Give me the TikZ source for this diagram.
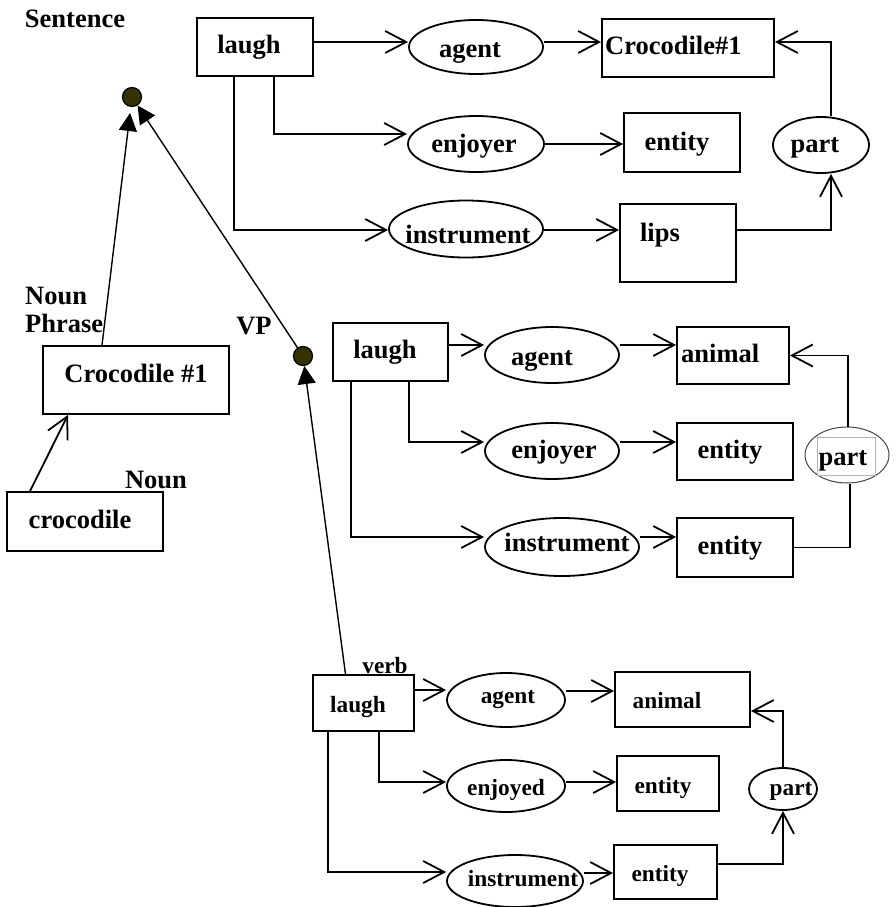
\documentclass[tikz,border=0pt]{standalone}
\usepackage{fontspec}
\setmainfont{Liberation Serif}
\usetikzlibrary{arrows.meta,shapes.geometric}
\definecolor{dotc}{RGB}{51,51,0}
\definecolor{pgray}{RGB}{70,70,70}
\definecolor{lgray}{RGB}{180,180,180}
\tikzset{
  lw/.style={line width=1.8pt},
  box/.style={draw, lw, rectangle, inner sep=0pt},
  ell/.style={draw, lw, ellipse, inner sep=0pt},
  txt/.style={font=\bfseries\fontsize{26.5}{28}\selectfont, inner sep=0pt, anchor=base},
  stxt/.style={font=\bfseries\fontsize{23.3}{26}\selectfont, inner sep=0pt, anchor=base},
  dotnode/.style={circle, draw, line width=1.2pt, fill=dotc, minimum size=19pt, inner sep=0pt},
  oarr/.style={lw, -{Straight Barb[length=21pt,width=22pt]}},
  farr/.style={line width=1.4pt, -{Triangle[length=18pt,width=18pt]}},
  conn/.style={lw},
}
\begin{document}
\begin{tikzpicture}[x=1pt,y=-1pt]
\useasboundingbox (0,0) rectangle (895,907);
\fill[white] (0,0) rectangle (895,907);

% ---------- top group ----------
\node[box,minimum width=116pt,minimum height=58pt] (L1) at (255,47) {};
\node[txt] (L1t) at (249,53) {laugh};
\node[ell,minimum width=134pt,minimum height=54pt] (A1) at (476,47) {};
\node[txt] (A1t) at (470,58) {agent};
\node[ell,minimum width=136pt,minimum height=56pt] (E1) at (476,144) {};
\node[txt] (E1t) at (474,152) {enjoyer};
\node[ell,minimum width=154pt,minimum height=57pt] (I1) at (466,229) {};
\node[txt] (I1t) at (468,243) {instrument};
\node[box,minimum width=172pt,minimum height=58pt] (C1) at (688,48) {};
\node[txt,anchor=base west] (C1t) at (605,55) {Crocodile\#1};
\node[box,minimum width=116pt,minimum height=59pt] (N1) at (682,142.5) {};
\node[txt] (N1t) at (677,150) {entity};
\node[box,minimum width=116pt,minimum height=78pt] (S1) at (678,243) {};
\node[txt] (S1t) at (660,241) {lips};
\node[ell,minimum width=96pt,minimum height=56pt] (P1) at (821,145) {};
\node[txt] (P1t) at (815,152) {part};

\draw[oarr] ([yshift=5pt]L1.east) -- ([yshift=5pt]A1.west);
\draw[oarr] ([xshift=19pt]L1.south) |- ([yshift=10pt]E1.west);
\draw[oarr] ([xshift=-21pt]L1.south) |- ([yshift=-1pt]I1.west);
\draw[oarr] ([yshift=5pt]A1.east) -- ([yshift=6pt]C1.west);
\draw[oarr] (E1.east) -- (E1.east -| N1.west);
\draw[oarr] ([yshift=-1pt]I1.east) -- ([yshift=13pt]S1.west);
\draw[oarr] ([yshift=13pt]S1.east) -| ([xshift=10pt]P1.south);
\draw[oarr] ([xshift=10pt]P1.north) |- ([yshift=6pt]C1.east);

% ---------- left side ----------
\node[txt] (sent) at (75,28) {Sentence};
\node[dotnode] (D1) at (132,97) {};
\node[txt,anchor=north west,align=left] (np) at (25,287) {Noun\\Phrase};
\node[box,minimum width=186pt,minimum height=68pt] (CN) at (136,380) {};
\node[txt] (CNt) at (136,382) {Crocodile \#1};
\node[box,minimum width=156pt,minimum height=59pt] (cr) at (85,521.5) {};
\node[txt] (crt) at (80,528) {crocodile};
\node[txt] (noun) at (156,488) {Noun};
\node[txt] (vp) at (254,334) {VP};
\node[dotnode] (D2) at (303,356) {};

% ---------- middle group ----------
\node[box,minimum width=115pt,minimum height=58pt] (L2) at (390.5,352) {};
\node[txt] (L2t) at (385,358) {laugh};
\node[ell,minimum width=134pt,minimum height=56pt] (A2) at (552,355) {};
\node[txt] (A2t) at (542,365) {agent};
\node[ell,minimum width=134pt,minimum height=56pt] (E2) at (552,451) {};
\node[txt] (E2t) at (554,458) {enjoyer};
\node[ell,minimum width=154pt,minimum height=58pt] (I2) at (562,547) {};
\node[txt] (I2t) at (567,551) {instrument};
\node[box,minimum width=112pt,minimum height=57pt] (M2) at (733,355.5) {};
\node[txt,anchor=base west] (M2t) at (681,362) {animal};
\node[box,minimum width=116pt,minimum height=57pt] (N2) at (735,451.5) {};
\node[txt] (N2t) at (730,458) {entity};
\node[box,minimum width=116pt,minimum height=59pt] (N3) at (735,547.5) {};
\node[txt] (N3t) at (730,554) {entity};
\node[ellipse,draw=pgray,line width=1pt,minimum width=84pt,minimum height=56pt,inner sep=0pt] (P2) at (847,455) {};
\node[draw=lgray,line width=1pt,minimum width=58pt,minimum height=38pt,inner sep=0pt] (P2r) at (846,456) {};
\node[txt] (P2t) at (843,465) {part};

\draw[oarr] ([yshift=7pt]L2.east) -- ([yshift=10pt]A2.west);
\draw[oarr] ([xshift=18.5pt]L2.south) |- ([yshift=9pt]E2.west);
\draw[oarr] ([xshift=-39.5pt]L2.south) |- ([yshift=10pt]I2.west);
\draw[oarr] ([yshift=10pt]A2.east) -- ([yshift=10.5pt]M2.west);
\draw[oarr] ([yshift=9pt]E2.east) -- ([yshift=9.5pt]N2.west);
\draw[oarr] ([yshift=10pt]I2.east) -- ([yshift=10.5pt]N3.west);
\draw[conn] (N3.east) -| ([xshift=3pt]P2.south);
\draw[oarr] ([xshift=1pt]P2.north) |- (M2.east);

% ---------- bottom group ----------
\node[box,minimum width=101pt,minimum height=56pt] (L3) at (363.5,703) {};
\node[stxt] (L3t) at (358,712) {laugh};
\node[stxt] (verb) at (385,673) {verb};
\node[ell,minimum width=118pt,minimum height=54pt] (A3) at (506,700) {};
\node[stxt] (A3t) at (508,703) {agent};
\node[ell,minimum width=118pt,minimum height=52pt] (E3) at (506,786) {};
\node[stxt] (E3t) at (506,795) {enjoyed};
\node[ell,minimum width=136pt,minimum height=52pt] (I3) at (515,881) {};
\node[stxt] (I3t) at (523,886) {instrument};
\node[box,minimum width=135pt,minimum height=55pt] (M3) at (682.5,699.5) {};
\node[stxt] (M3t) at (667,708) {animal};
\node[box,minimum width=102pt,minimum height=55pt] (N4) at (668,783.5) {};
\node[stxt] (N4t) at (663,793) {entity};
\node[box,minimum width=103pt,minimum height=54pt] (N5) at (665.5,872) {};
\node[stxt] (N5t) at (660,881) {entity};
\node[ell,minimum width=68pt,minimum height=42pt] (P3) at (783,789) {};
\node[stxt] (P3t) at (791,795) {part};

\draw[oarr] ([yshift=13pt]L3.east) -- ([yshift=10pt]A3.west);
\draw[oarr] ([yshift=9pt]A3.east) -- ([yshift=8.5pt]M3.west);
\draw[oarr] ([xshift=15.5pt]L3.south) |- ([yshift=4pt]E3.west);
\draw[oarr] ([yshift=4pt]E3.east) -- ([yshift=1.5pt]N4.west);
\draw[oarr] ([xshift=-35.5pt]L3.south) |- ([yshift=9pt]I3.west);
\draw[oarr] ([yshift=8pt]I3.east) -- ([yshift=-1pt]N5.west);
\draw[oarr] ([yshift=8pt]N5.east) -| (P3.south);
\draw[oarr] (P3.north) |- ([yshift=-11.5pt]M3.east);

% ---------- tree connectors ----------
\draw[farr, shorten >=6pt] ([xshift=-34pt]CN.north) -- (D1);
\draw[farr] (D2) -- (D1);
\draw[oarr] ([xshift=-55pt]cr.north) -- ([xshift=-68pt]CN.south);
\draw[farr] ([xshift=-18pt]L3.north) -- (D2);
\end{tikzpicture}
\end{document}
